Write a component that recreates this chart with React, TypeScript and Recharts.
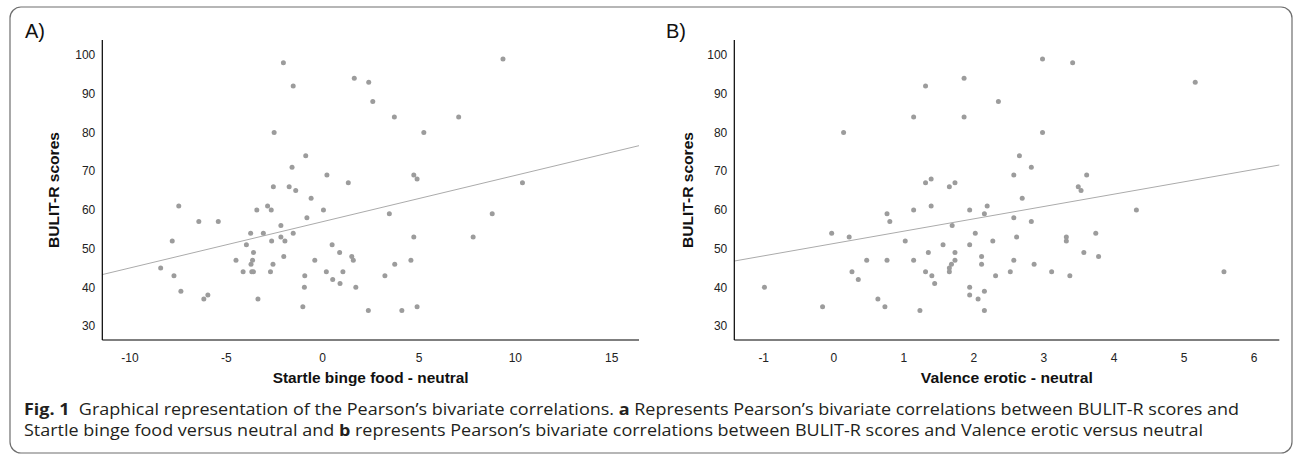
import React from "react";
import { ScatterChart, Scatter, XAxis, YAxis, ReferenceLine, Label } from "recharts";

// Panel A: Startle binge food - neutral vs BULIT-R
const startleX = [
  -2.04, 9.36, 1.64, 2.39, -1.53, 2.6, 3.72, 7.06, -2.52, 5.25, -0.88, -1.59, 0.22, 4.73, 4.9, 1.33, 10.37,
  -2.56, -1.74, -1.4, -0.6, -7.47, -2.86, -3.42, -2.67, 0.04, 3.46, 8.8, -0.82, -6.43, -5.42, -2.17, -3.74,
  -3.08, -1.53, -7.81, -2.65, -2.17, -1.96, 4.73, 7.81, -3.96, 0.49, -3.59, 0.88, -2.02, 1.51, -4.5, -3.64,
  -0.41, 1.59, 4.58, -3.72, -2.58, 3.74, -8.41, -4.13, -3.68, -3.59, -2.71, 0.19, 1.05, -7.72, -0.93, 3.23,
  0.52, 0.9, -0.95, 1.72, -7.36, -5.96, -6.17, -3.36, -1.03, 4.9, 2.37, 4.11,
];
const bulitA = [
  98, 99, 94, 93, 92, 88, 84, 84, 80, 80, 74, 71, 69, 69, 68, 67, 67,
  66, 66, 65, 63, 61, 61, 60, 60, 60, 59, 59, 58, 57, 57, 56, 54,
  54, 54, 52, 52, 53, 52, 53, 53, 51, 51, 49, 49, 48, 48, 47, 47,
  47, 47, 47, 46, 46, 46, 45, 44, 44, 44, 44, 44, 44, 43, 43, 43,
  42, 41, 40, 40, 39, 38, 37, 37, 35, 35, 34, 34,
];

// Panel B: Valence erotic - neutral vs BULIT-R
const valenceX = [
  -0.99, -0.16, -0.03, 0.14, 0.22, 0.26, 0.35, 0.47, 0.63, 0.73, 0.76, 0.76, 0.8, 1.02, 1.14, 1.14, 1.14,
  1.23, 1.31, 1.31, 1.31, 1.35, 1.39, 1.39, 1.4, 1.44, 1.56, 1.65, 1.65, 1.65, 1.68, 1.69, 1.73, 1.73,
  1.73, 1.86, 1.86, 1.94, 1.94, 1.94, 1.94, 2.02, 2.06, 2.11, 2.11, 2.15, 2.15, 2.15, 2.19, 2.27, 2.31,
  2.35, 2.52, 2.57, 2.57, 2.57, 2.61, 2.65, 2.69, 2.82, 2.82, 2.86, 2.98, 2.98, 3.11, 3.32, 3.32, 3.37,
  3.41, 3.49, 3.53, 3.57, 3.61, 3.74, 3.78, 4.32, 5.16, 5.57,
];
const bulitB = [
  40, 35, 54, 80, 53, 44, 42, 47, 37, 35, 59, 47, 57, 52, 84, 60, 47,
  34, 92, 67, 44, 49, 68, 61, 43, 41, 51, 66, 45, 44, 46, 56, 67, 49,
  47, 94, 84, 60, 51, 40, 38, 54, 37, 48, 46, 59, 39, 34, 61, 52, 43,
  88, 44, 69, 58, 47, 53, 74, 63, 71, 57, 46, 99, 80, 44, 53, 52, 43,
  98, 66, 65, 49, 69, 54, 48, 60, 93, 44,
];

// Fit lines (endpoints)
const fitAX = [-11.44, 16.42];
const fitAY = [43.3, 76.6];
const fitBX = [-1.42, 6.36];
const fitBY = [46.8, 71.6];

const yTicks = [30, 40, 50, 60, 70, 80, 90, 100];
const xTicksA = [-10, -5, 0, 5, 10, 15];
const xTicksB = [-1, 0, 1, 2, 3, 4, 5, 6];
const yDomain: [number, number] = [26.4, 103.9];
const xDomainA: [number, number] = [-11.44, 16.42];
const xDomainB: [number, number] = [-1.42, 6.36];

const yTitle = "BULIT-R scores";
const xTitleA = "Startle binge food - neutral";
const xTitleB = "Valence erotic - neutral";

const FONT = "'Liberation Sans', Arial, sans-serif";
const DOT = "#9c9c9c";

const zip = (xs: number[], ys: number[]) => xs.map((x, i) => ({ x, y: ys[i] }));

type PanelProps = {
  left: number;
  width: number;
  marginLeft: number;
  marginRight: number;
  xs: number[];
  ys: number[];
  fitX: number[];
  fitY: number[];
  xDomain: [number, number];
  xTicks: number[];
  xTitle: string;
  xTitleLen: number;
  yTitleGap: number;
};

const Panel = (p: PanelProps) => {
  const data = zip(p.xs, p.ys);
  return (
    <div style={{ position: "absolute", left: p.left, top: 0 }}>
      <ScatterChart
        width={p.width}
        height={400}
        margin={{ top: 40, right: p.marginRight, bottom: 30, left: p.marginLeft }}
      >
        <XAxis
          type="number"
          dataKey="x"
          domain={p.xDomain}
          ticks={p.xTicks}
          allowDataOverflow
          height={30}
          tickLine={false}
          tickSize={0}
          tickMargin={13}
          axisLine={{ stroke: "#000", strokeWidth: 1.2 }}
          tick={{ fontSize: 12, fill: "#222", fontFamily: FONT }}
          interval={0}
        >
          <Label
            content={(lp: any) => {
              const vb = lp.viewBox || {};
              return (
                <text
                  x={vb.x + vb.width / 2}
                  y={vb.y + 43}
                  textAnchor="middle"
                  fontFamily={FONT}
                  fontWeight="bold"
                  fontSize={14}
                  fill="#111"
                  textLength={p.xTitleLen}
                  lengthAdjust="spacingAndGlyphs"
                >
                  {p.xTitle}
                </text>
              );
            }}
          />
        </XAxis>
        <YAxis
          type="number"
          dataKey="y"
          domain={yDomain}
          ticks={yTicks}
          allowDataOverflow
          width={60}
          tickLine={false}
          tickSize={0}
          tickMargin={7}
          axisLine={{ stroke: "#000", strokeWidth: 1.2 }}
          tick={{ fontSize: 12, fill: "#222", fontFamily: FONT }}
          interval={0}
        >
          <Label
            content={(lp: any) => {
              const vb = lp.viewBox || {};
              const cx = vb.x + vb.width - p.yTitleGap;
              const cy = vb.y + vb.height / 2;
              return (
                <text
                  x={cx}
                  y={cy}
                  transform={`rotate(-90 ${cx} ${cy})`}
                  textAnchor="middle"
                  dominantBaseline="central"
                  fontFamily={FONT}
                  fontWeight="bold"
                  fontSize={14}
                  fill="#111"
                  textLength={116}
                  lengthAdjust="spacingAndGlyphs"
                >
                  {yTitle}
                </text>
              );
            }}
          />
        </YAxis>
        <ReferenceLine
          segment={[
            { x: p.fitX[0], y: p.fitY[0] },
            { x: p.fitX[1], y: p.fitY[1] },
          ]}
          stroke="#ababab"
          strokeWidth={1}
          ifOverflow="visible"
        />
        <Scatter
          data={data}
          isAnimationActive={false}
          shape={(s: any) => <circle cx={s.cx} cy={s.cy} r={2.5} fill={DOT} />}
        />
      </ScatterChart>
    </div>
  );
};

const captionFont = "'Open Sans', 'Noto Sans', sans-serif";

export default function App() {
  return (
    <div style={{ position: "absolute", left: 0, top: 0, width: 1295, height: 455, background: "#fff" }}>
      <svg width={1295} height={455} style={{ position: "absolute", left: 0, top: 0 }}>
        <rect x={10} y={7} width={1282} height={446} rx={11} ry={11} fill="#fff" stroke="#6e6e6e" strokeWidth={1.2} />
        <text x={25} y={38} fontFamily={FONT} fontSize={20} fill="#111">A)</text>
        <text x={666} y={38} fontFamily={FONT} fontSize={20} fill="#111">B)</text>
        <text
          x={24}
          y={414.5}
          fontFamily={captionFont}
          fontSize={15.5}
          fill="#231f20"
          textLength={1215}
          lengthAdjust="spacingAndGlyphs"
        >
          <tspan fontWeight="bold">Fig. 1</tspan>
          <tspan dx={8}>Graphical representation of the Pearson’s bivariate correlations. </tspan>
          <tspan fontWeight="bold">a</tspan>
          <tspan> Represents Pearson’s bivariate correlations between BULIT-R scores and</tspan>
        </text>
        <text
          x={24}
          y={435.5}
          fontFamily={captionFont}
          fontSize={15.5}
          fill="#231f20"
          textLength={1179}
          lengthAdjust="spacingAndGlyphs"
        >
          <tspan>Startle binge food versus neutral and </tspan>
          <tspan fontWeight="bold">b</tspan>
          <tspan> represents Pearson’s bivariate correlations between BULIT-R scores and Valence erotic versus neutral</tspan>
        </text>
      </svg>
      <Panel
        left={0}
        width={660}
        marginLeft={42.3}
        marginRight={21}
        xs={startleX}
        ys={bulitA}
        fitX={fitAX}
        fitY={fitAY}
        xDomain={xDomainA}
        xTicks={xTicksA}
        xTitle={xTitleA}
        xTitleLen={196}
        yTitleGap={48}
      />
      <Panel
        left={640}
        width={655}
        marginLeft={34.3}
        marginRight={15.7}
        xs={valenceX}
        ys={bulitB}
        fitX={fitBX}
        fitY={fitBY}
        xDomain={xDomainB}
        xTicks={xTicksB}
        xTitle={xTitleB}
        xTitleLen={172}
        yTitleGap={46}
      />
    </div>
  );
}
